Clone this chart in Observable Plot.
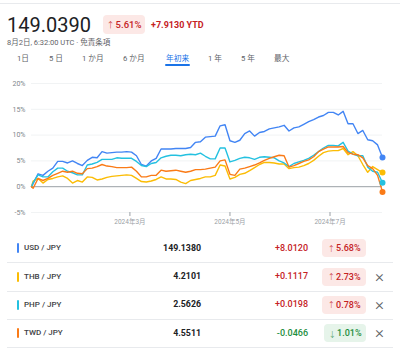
<!DOCTYPE html>
<html><head><meta charset="utf-8">
<script src="https://cdn.jsdelivr.net/npm/d3@7"></script>
<script src="https://cdn.jsdelivr.net/npm/@observablehq/plot@0.6"></script>
<style>
body{margin:0;background:#fff;font-family:Roboto,"Noto Sans CJK JP",sans-serif;width:400px;height:353px;overflow:hidden;position:relative}
.a{position:absolute;white-space:nowrap}
.topline{left:0;top:3px;width:400px;height:1px;background:#e8eaed}
.price{left:7px;top:15px;font-size:20px;line-height:20px;color:#202124}
.badge{display:flex;align-items:center;justify-content:center;border-radius:4px;font-weight:500}
.badge span{font-weight:300;font-size:0.85em;margin-right:1px}
.up{background:#fce8e6;color:#c5221f}
.down{background:#e6f4ea;color:#1e8e3e}
.ytd{left:151px;top:20.5px;font-size:9px;line-height:9px;color:#c5221f;font-weight:700}
.sub{left:7px;top:39.25px;font-size:7.5px;line-height:7.5px;color:#5f6368}
.tab{top:55px;font-size:7.7px;line-height:8px;color:#5f6368}
.sel{color:#1a73e8}
.uline{left:165px;top:64px;width:25px;height:2px;background:#1a73e8;border-radius:1px}
#chart{left:0;top:72px}
.name{left:24px;font-size:8px;line-height:8px;color:#3c4043;font-weight:500}
.bar{left:17px;width:2px;height:10px;border-radius:1px}
.val{right:199px;font-size:8.8px;line-height:9px;color:#202124;font-weight:700;text-align:right}
.chg{right:92px;font-size:9px;line-height:9px;text-align:right;font-weight:500}
.sep{left:7px;width:386px;height:1px;background:#e8eaed}
.x{left:375px;font-size:17px;line-height:17px;color:#5f6368;font-weight:300}
</style></head><body>
<div id="page"></div>
<script>
// ---- chart data (percent change since start of year) ----
const dates = ["2024-01-01","2024-01-02","2024-01-05","2024-01-08","2024-01-11","2024-01-14","2024-01-17","2024-01-20","2024-01-23","2024-01-26",
"2024-01-29","2024-02-01","2024-02-04","2024-02-07","2024-02-10","2024-02-13","2024-02-16","2024-02-19","2024-02-22","2024-02-25",
"2024-02-28","2024-03-02","2024-03-05","2024-03-08","2024-03-11","2024-03-14","2024-03-17","2024-03-20","2024-03-23","2024-03-26",
"2024-03-29","2024-04-01","2024-04-04","2024-04-07","2024-04-10","2024-04-13","2024-04-16","2024-04-19","2024-04-22","2024-04-25",
"2024-04-28","2024-05-01","2024-05-04","2024-05-07","2024-05-10","2024-05-13","2024-05-16","2024-05-19","2024-05-22","2024-05-25",
"2024-05-28","2024-05-31","2024-06-03","2024-06-06","2024-06-09","2024-06-12","2024-06-15","2024-06-18","2024-06-21","2024-06-24",
"2024-06-27","2024-06-30","2024-07-03","2024-07-06","2024-07-09","2024-07-12","2024-07-15","2024-07-18","2024-07-21","2024-07-24",
"2024-07-27","2024-07-30","2024-08-02"];
const usd = [0,0.6,2.5,2.2,3.0,3.6,4.9,4.9,4.6,5.0,
4.5,4.1,5.1,5.7,5.6,6.8,6.5,6.6,6.7,6.7,
6.8,6.7,6.0,4.3,4.0,5.0,5.5,7.3,7.3,7.3,
7.4,7.4,7.4,7.6,8.6,8.7,9.6,9.7,9.8,11.8,
12.0,8.9,8.6,9.0,10.3,10.8,9.8,10.5,10.7,11.2,
11.4,11.6,11.9,10.8,11.4,11.6,12.1,12.6,13.0,13.5,
13.8,14.4,14.4,13.9,14.6,12.2,12.2,10.3,10.9,9.1,
8.9,8.1,5.68];
const thb = [0,1.1,1.6,0.7,1.4,1.6,1.9,2.1,1.6,0.7,
1.2,0.9,1.9,1.8,1.3,1.5,1.8,2.0,2.1,2.2,
2.3,2.2,1.6,1.0,0.9,1.1,1.4,1.9,1.5,1.5,
1.4,0.9,0.6,1.2,1.4,1.6,1.9,1.9,2.2,4.2,
4.0,1.5,1.8,2.4,2.6,3.1,3.7,4.3,4.7,4.7,
4.6,4.4,4.4,3.5,3.7,3.8,4.1,4.5,5.1,5.9,
6.6,6.9,7.0,7.0,7.4,6.2,6.8,6.0,4.3,2.8,
3.9,3.3,2.73];
const php = [0,0.8,2.3,1.9,1.9,2.9,3.6,3.6,3.0,2.7,
2.3,2.3,4.2,4.4,4.7,5.3,5.3,5.3,5.6,5.5,
5.5,5.5,4.9,4.1,3.9,4.5,4.7,5.6,5.9,6.1,
6.1,6.0,6.2,6.3,6.2,6.5,5.9,5.4,5.4,7.5,
7.5,4.8,5.1,5.5,5.7,5.6,5.3,5.7,5.8,5.7,
5.6,5.0,4.6,3.9,4.5,4.8,5.1,5.5,6.1,6.8,
7.5,8.0,8.0,7.9,8.6,6.9,6.3,6.0,6.0,3.8,
3.0,2.8,0.78];
const twd = [0,-0.3,1.6,1.2,1.6,2.2,2.6,3.0,2.8,3.0,
2.6,2.5,3.5,3.6,3.9,4.3,4.0,3.9,3.7,3.7,
3.7,3.8,3.0,1.9,1.9,2.2,2.2,3.2,3.0,3.1,
3.2,3.0,2.8,3.0,3.3,3.3,3.4,3.6,3.8,5.0,
5.2,2.4,2.2,3.4,3.6,3.9,4.2,4.6,5.1,5.5,
5.8,6.1,6.0,3.8,4.1,4.5,4.9,5.2,5.8,6.8,
7.3,7.7,7.7,7.7,7.8,6.6,6.3,6.2,5.6,4.1,
3.5,2.2,-1.01];
const seriesNames = ["USD / JPY","THB / JPY","PHP / JPY","TWD / JPY"];
const seriesColors = ["#4285f4","#fbbc04","#24c1e0","#fa7b17"];
const yTicks = [-5,0,5,10,15,20];
const xTicks = ["2024-03-01","2024-05-01","2024-07-01"];
const xDomain = ["2024-01-01","2024-08-02"];

// ---- header / table text ----
const headPrice = "149.0390";
const headPct = ["↑","5.61%"];
const headYtd = "+7.9130 YTD";
const headSub = "8月2日, 6:32:00 UTC · 免責条項";
const tabs = ["1日","5 日","1 か月","6 か月","年初来","1 年","5 年","最大"];
const rowPrices = ["149.1380","4.2101","2.5626","4.5511"];
const rowChanges = ["+8.0120","+0.1117","+0.0198","-0.0466"];
const rowArrows = ["↑","↑","↑","↓"];
const rowPcts = ["5.68%","2.73%","0.78%","1.01%"];

// ---- layout ----
const page = document.getElementById("page");
function el(cls, text, style){const d=document.createElement("div");d.className="a "+cls;if(text!=null)d.textContent=text;if(style)Object.assign(d.style,style);page.appendChild(d);return d;}
function badge(cls, arrow, pct, style){const d=el(cls,null,style);const s=document.createElement("span");s.textContent=arrow;d.appendChild(s);d.appendChild(document.createTextNode(pct));return d;}
el("topline");
el("price", headPrice);
badge("badge up", headPct[0], headPct[1], {left:"103px",top:"15px",width:"42px",height:"19px",fontSize:"9.5px"});
el("ytd", headYtd);
el("sub", headSub);
const tabX = [17,49,82,123,166,208,241,274];
tabs.forEach((t,i)=>el("tab"+(i===4?" sel":""), t, {left:tabX[i]+"px"}));
el("uline");

const rowY = [248,276.5,304.5,333];
rowY.forEach((cy,i)=>{
  el("bar", null, {top:(cy-5)+"px", background:seriesColors[i]});
  el("name", seriesNames[i], {top:(cy-4)+"px"});
  el("val", rowPrices[i], {top:(cy-4.5)+"px"});
  const neg = rowChanges[i].startsWith("-");
  el("chg", rowChanges[i], {top:(cy-4.5)+"px", color: neg?"#1e8e3e":"#c5221f"});
  const w = neg?42:44;
  badge("badge "+(neg?"down":"up"), rowArrows[i], rowPcts[i], {left:(366-w)+"px",top:(cy-9)+"px",width:w+"px",height:"18px",fontSize:"9px"});
  if(i>0) el("x","×",{top:(cy-9)+"px"});
  el("sep", null, {top:(cy+14)+"px"});
});

const data = seriesNames.flatMap((s,i)=>[usd,thb,php,twd][i].map((v,j)=>({series:s,date:new Date(dates[j]),value:v})));

const chart = Plot.plot({
  width:400, height:160,
  marginLeft:31, marginRight:18, marginTop:11, marginBottom:20,
  style:{fontFamily:"Roboto, sans-serif", background:"transparent"},
  x:{type:"utc", domain:xDomain.map(d=>new Date(d))},
  y:{domain:[-5,20]},
  color:{domain:seriesNames, range:seriesColors},
  marks:[
    Plot.gridY([-5,5,10,15,20], {stroke:"#f1f3f4", strokeOpacity:1}),
    Plot.ruleY([0], {stroke:"#9aa0a6", strokeWidth:1}),
    Plot.line(data, {x:"date", y:"value", z:"series", stroke:"series", strokeWidth:1.4}),
    Plot.dot(data, Plot.selectLast({x:"date", y:"value", z:"series", fill:"series", r:3})),
    Plot.axisY(yTicks, {tickFormat:d=>d+"%", tickSize:0, tickPadding:6, fill:"#80868b", fontSize:7, label:null}),
    Plot.axisX(xTicks.map(d=>new Date(d)), {tickFormat:d=>`${d.getUTCFullYear()}年${d.getUTCMonth()+1}月`, tickSize:4, tickPadding:3, stroke:"#9aa0a6", fill:"#9aa0a6", fontSize:6.5, label:null, fontFamily:"Roboto, 'Noto Sans CJK JP', sans-serif"})
  ]
});
const holder = el("", null, {left:"0px", top:"72px"});
holder.id="chart";
holder.appendChild(chart);
</script>
</body></html>
